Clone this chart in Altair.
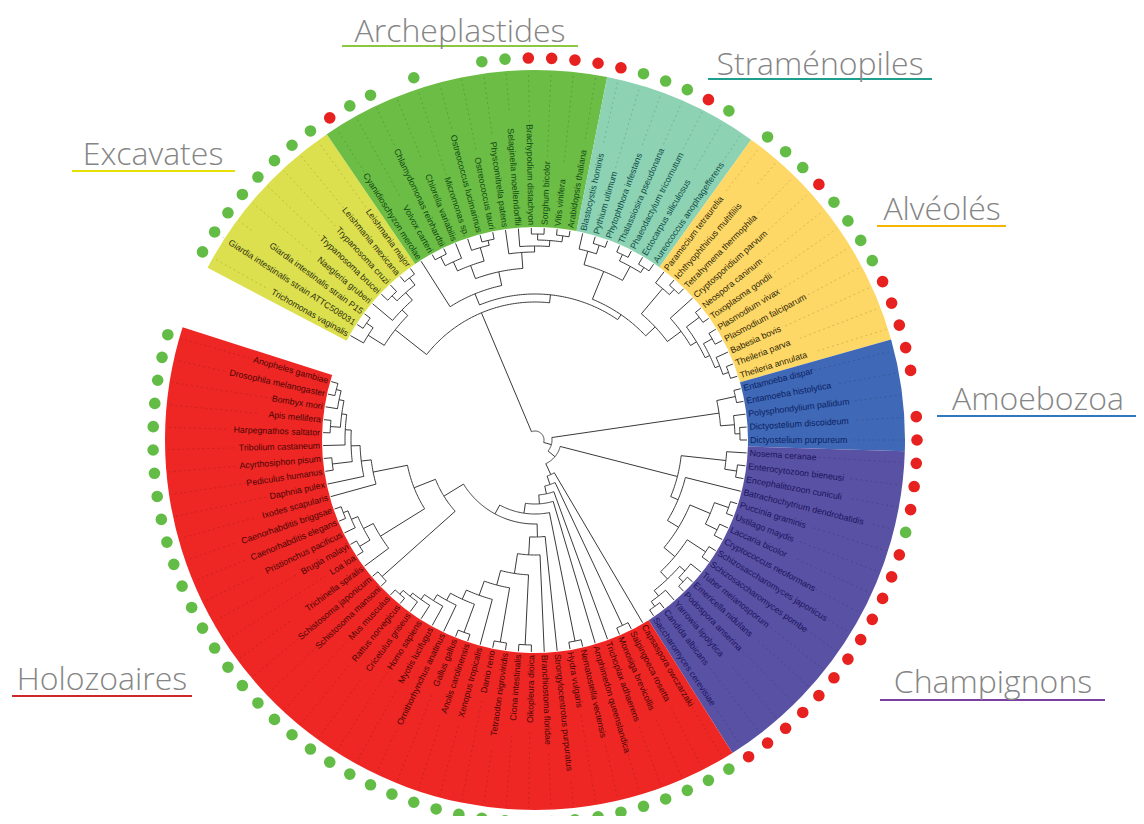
import math
import altair as alt
import pandas as pd

# ---------------- data ----------------
species = [
    "Trichomonas vaginalis", "Giardia intestinalis strain ATTC508031", "Giardia intestinalis strain P15",
    "Naegleria gruberi", "Trypanosoma brucei", "Trypanosoma cruzi", "Leishmania mexicana", "Leishmania major",
    "Cyanidioschyzon merolae", "Volvox carteri", "Chlamydomonas reinhardtii", "Chlorella variabilis",
    "Micromonas sp.", "Ostreococcus lucimarinus", "Ostreococcus tauri", "Physcomitrella patens",
    "Selaginella moellendorffii", "Brachypodium distachyon", "Sorghum bicolor", "Vitis vinifera",
    "Arabidopsis thaliana",
    "Blastocystis hominis", "Pythium ultimum", "Phytophthora infestans", "Thalassiosira pseudonana",
    "Phaeodactylum tricornutum", "Ectocarpus siliculosus", "Aureococcus anophagefferens",
    "Paramecium tetraurelia", "Ichthyophthirius multifiliis", "Tetrahymena thermophila",
    "Cryptosporidium parvum", "Neospora caninum", "Toxoplasma gondii", "Plasmodium vivax",
    "Plasmodium falciparum", "Babesia bovis", "Theileria parva", "Theileria annulata",
    "Entamoeba dispar", "Entamoeba histolytica", "Polysphondylium pallidum", "Dictyostelium discoideum",
    "Dictyostelium purpureum",
    "Nosema ceranae", "Enterocytozoon bieneusi", "Encephalitozoon cuniculi", "Batrachochytrium dendrobatidis",
    "Puccinia graminis", "Ustilago maydis", "Laccaria bicolor", "Cryptococcus neoformans",
    "Schizosaccharomyces japonicus", "Schizosaccharomyces pombe", "Tuber melanosporum", "Emericella nidulans",
    "Podospora anserina", "Yarrowia lipolytica", "Candida albicans", "Saccharomyces cerevisiae",
    "Capsaspora owczarzaki", "Salpingoeca rosetta", "Monosiga brevicollis", "Trichoplax adhaerens",
    "Amphimedon queenslandica", "Nematostella vectensis", "Hydra vulgaris", "Strongylocentrotus purpuratus",
    "Branchiostoma floridae", "Oikopleura dioica", "Ciona intestinalis", "Tetraodon nigroviridis",
    "Danio rerio", "Xenopus tropicalis", "Anolis carolinensis", "Gallus gallus", "Ornithorhynchus anatinus",
    "Myotis lucifugus", "Homo sapiens", "Cricetulus griseus", "Rattus norvegicus", "Mus musculus",
    "Schistosoma mansoni", "Schistosoma japonicum", "Trichinella spiralis", "Loa loa", "Brugia malayi",
    "Pristionchus pacificus", "Caenorhabditis elegans", "Caenorhabditis briggsae", "Ixodes scapularis",
    "Daphnia pulex", "Pediculus humanus", "Acyrthosiphon pisum", "Tribolium castaneum",
    "Harpegnathos saltator", "Apis mellifera", "Bombyx mori", "Drosophila melanogaster", "Anopheles gambiae",
]
groups = ["Excavates", "Archeplastides", "Straménopiles", "Alvéolés", "Amoebozoa", "Champignons", "Holozoaires"]
group_sizes = [8, 13, 7, 11, 5, 16, 40]
# dot beside each species: G = green, R = red, - = none
dots = ("GGGGGGGG" + "RGG-G--GGRRRR" + "RGGGRG-" + "GGGRGGGGRRR" + "RR-RR"
        + "RRRG" + "R" * 12 + "G" * 40)

# tree topology (leaf numbers), "@" = radius of internal node
EXC = "((1,(2,3)@205)@197,(4,((5,6)@203,(7,8)@205)@196)@186)@178"
CHLORO = "(((10,11)@206,12)@196,(13,(14,15)@205)@200)@186"
LAND = "(16,(17,((18,19)@206,(20,21)@206)@200)@194)@188"
ARCH = "(9,(" + CHLORO + "," + LAND + ")@172)@158"
STRAM = "((22,(23,24)@205)@196,((25,26)@205,(27,28)@204)@198)@182"
ALV = "((29,(30,31)@205)@198,(32,((33,34)@205,((35,36)@204,(37,(38,39)@205)@199)@194)@189)@182)@165"
BIK = "(" + EXC + ",(" + ARCH + ",(" + STRAM + "," + ALV + ")@152)@146)@138"
AMO = "((40,41)@205,(42,(43,44)@205)@200)@186"
MICRO = "(45,(46,47)@204)@192"
BASID = "((49,50)@205,(51,52)@203)@190"
ASCO = "((53,54)@204,((55,(56,57)@205)@199,(58,(59,60)@205)@199)@192)@182"
FUNGI = "(" + MICRO + ",(48,(" + BASID + "," + ASCO + ")@168)@155)@147"
VERT = "((72,73)@205,(74,((75,76)@205,(77,(78,(79,(80,(81,82)@205)@200)@196)@190)@183)@175)@165)@150"
DEUT = "(68,(69,((70,71)@205," + VERT + ")@135)@115)@97"
NEM = "(85,((86,87)@205,(88,(89,90)@205)@200)@193)@182"
ARTH = "(91,(92,((93,94)@204,(95,((96,97)@205,(98,(99,100)@205)@200)@195)@190)@184)@175)@165"
PROT = "((83,84)@205,(" + NEM + "," + ARTH + ")@130)@107"
HOL = "(61,((62,63)@205,(64,(65,((66,67)@205,(" + DEUT + "," + PROT + ")@84)@74)@64)@55)@47)@38"
TREE = "(" + BIK + ",(" + AMO + ",(" + FUNGI + "," + HOL + ")@26)@17)@9"

titles = ["Archeplastides", "Straménopiles", "Excavates", "Alvéolés", "Amoebozoa", "Champignons", "Holozoaires"]

# ---------------- styling / layout ----------------
W, H = 1128, 808
CX, CY = 527, 432
THETA1, STEP = 299.5, 3.5
R_TIP, R_LAB, R_IN, R_OUT, R_DOT = 212, 215, 213, 370, 382
wedge_col = {"Excavates": "#DCE04E", "Archeplastides": "#6CBD45", "Straménopiles": "#8ED2B4",
             "Alvéolés": "#FDD866", "Amoebozoa": "#3F68B6", "Champignons": "#5951A4", "Holozoaires": "#EE2724"}
label_col = {"Excavates": "#2e3010", "Archeplastides": "#0f4a12", "Straménopiles": "#0c4d46",
             "Alvéolés": "#2e2508", "Amoebozoa": "#0b1f63", "Champignons": "#1b145c", "Holozoaires": "#4a0505"}
dot_col = {"G": "#63BC46", "R": "#E6211F"}
title_layout = {  # center x, baseline y, underline x0, x1, y, underline colour
    "Archeplastides": (452, 34, 334, 570, 38, "#8DC63F"),
    "Straménopiles": (812, 67, 700, 924, 71, "#1E9E8C"),
    "Excavates": (145, 157, 64, 227, 163, "#E6E000"),
    "Alvéolés": (934, 212, 869, 998, 218, "#F4B400"),
    "Amoebozoa": (1030, 402, 929, 1130, 408, "#2E78C0"),
    "Champignons": (985, 685, 872, 1097, 692, "#7A3FA0"),
    "Holozoaires": (94, 682, 4, 184, 688, "#CC2A2A"),
}


def pt(r, a):
    t = math.radians(a)
    return CX + r * math.sin(t), CY - r * math.cos(t)


def leaf_angle(i):
    return THETA1 + STEP * (i - 1)


grp_of = []
for g, n in zip(groups, group_sizes):
    grp_of += [g] * n

# ---------------- tree parsing / layout ----------------
def parse(s):
    pos = 0

    def node():
        nonlocal pos
        if s[pos] == "(":
            pos += 1
            kids = [node()]
            while s[pos] == ",":
                pos += 1
                kids.append(node())
            pos += 1  # ')'
            pos += 1  # '@'
            j = pos
            while pos < len(s) and (s[pos].isdigit() or s[pos] == "."):
                pos += 1
            return ("n", float(s[j:pos]), kids)
        j = pos
        while pos < len(s) and s[pos].isdigit():
            pos += 1
        return ("l", int(s[j:pos]))

    return node()


rows = []
seg_id = [0]


def add_seg(points):
    sid = seg_id[0]
    seg_id[0] += 1
    for k, (x, y) in enumerate(points):
        rows.append({"seg": sid, "k": k, "x": x, "y": y})


def lay(n):
    if n[0] == "l":
        return leaf_angle(n[1]), R_TIP
    R = n[1]
    ch = [lay(k) for k in n[2]]
    a0, a1 = ch[0][0], ch[-1][0]
    for a, r in ch:
        add_seg([pt(R, a), pt(r, a)])
    npts = max(2, int(abs(a1 - a0) / 0.7) + 2)
    add_seg([pt(R, a0 + (a1 - a0) * j / (npts - 1)) for j in range(npts)])
    return (a0 + a1) / 2, R


lay(parse(TREE))
tree_df = pd.DataFrame(rows)

# ---------------- leaves ----------------
lab = []
for i, name in enumerate(species, start=1):
    a = leaf_angle(i)
    am = a % 360
    x, y = pt(R_LAB, a)
    right = 0 < am < 180
    ang = (am - 90) % 360 if right else (am + 90) % 360
    rend = R_LAB + len(name) * 4.3 + 4
    x1, y1 = pt(rend, a)
    x2, y2 = pt(R_OUT - 2, a)
    dx, dy = pt(R_DOT, a)
    lab.append({"name": name, "x": x, "y": y, "ang": ang, "side": "R" if right else "L",
                "col": label_col[grp_of[i - 1]], "lx": x1, "ly": y1, "lx2": x2, "ly2": y2,
                "dx": dx, "dy": dy, "dk": dots[i - 1],
                "dcol": dot_col.get(dots[i - 1], "#fff")})
lab_df = pd.DataFrame(lab)

wedges = []
start = 1
for g, n in zip(groups, group_sizes):
    a0 = leaf_angle(start) - STEP / 2
    a1 = leaf_angle(start + n - 1) + STEP / 2
    wedges.append({"g": g, "t0": math.radians(a0), "t1": math.radians(a1),
                   "r0": R_IN, "r1": R_OUT, "col": wedge_col[g]})
    start += n
wedge_df = pd.DataFrame(wedges)

tit = []
for t in titles:
    cx, by, u0, u1, uy, uc = title_layout[t]
    tit.append({"t": t, "x": cx, "y": by, "u0": u0, "u1": u1, "uy": uy, "uc": uc})
tit_df = pd.DataFrame(tit)

# ---------------- chart ----------------
XS = alt.Scale(domain=[0, W], nice=False, zero=False)
YS = alt.Scale(domain=[0, H], nice=False, zero=False, reverse=True)


def X(f):
    return alt.X(f + ":Q", scale=XS, axis=None)


def Y(f):
    return alt.Y(f + ":Q", scale=YS, axis=None)


wedge_layer = alt.Chart(wedge_df).mark_arc(stroke=None).encode(
    theta=alt.Theta("t0:Q", scale=None, stack=None),
    theta2="t1:Q",
    radius=alt.Radius("r0:Q", scale=None),
    radius2="r1:Q",
    color=alt.Color("col:N", scale=None),
    x=alt.value(CX), y=alt.value(CY),
)

guide_layer = alt.Chart(lab_df).mark_rule(strokeDash=[2, 3], strokeWidth=0.7, opacity=0.22,
                                          color="#000").encode(
    x=X("lx"), y=Y("ly"), x2="lx2", y2="ly2")

tree_layer = alt.Chart(tree_df).mark_line(color="#3a3a3a", strokeWidth=1).encode(
    x=X("x"), y=Y("y"), detail="seg:N", order="k:Q")


def text_layer(side, align):
    return alt.Chart(lab_df[lab_df["side"] == side]).mark_text(
        align=align, baseline="middle", font="Liberation Sans", fontSize=8.8).encode(
        x=X("x"), y=Y("y"), text="name:N", angle=alt.Angle("ang:Q", scale=None),
        color=alt.Color("col:N", scale=None))


dot_layer = alt.Chart(lab_df[lab_df["dk"] != "-"]).mark_circle(size=135, opacity=1).encode(
    x=X("dx"), y=Y("dy"), color=alt.Color("dcol:N", scale=None))

title_layer = alt.Chart(tit_df).mark_text(
    align="center", baseline="alphabetic", font="Open Sans", fontWeight=300, fontSize=32,
    color="#858585").encode(
    x=X("x"), y=Y("y"), text="t:N")

under_layer = alt.Chart(tit_df).mark_rule(strokeWidth=2).encode(
    x=X("u0"), x2="u1", y=Y("uy"), color=alt.Color("uc:N", scale=None))

chart = alt.layer(
    wedge_layer, guide_layer, tree_layer, text_layer("R", "left"), text_layer("L", "right"),
    dot_layer, under_layer, title_layer,
).properties(width=W, height=H, padding=0, autosize="none", background="white"
).configure_view(stroke=None)

chart.save("out.html", embed_options={"renderer": "svg", "actions": False})
